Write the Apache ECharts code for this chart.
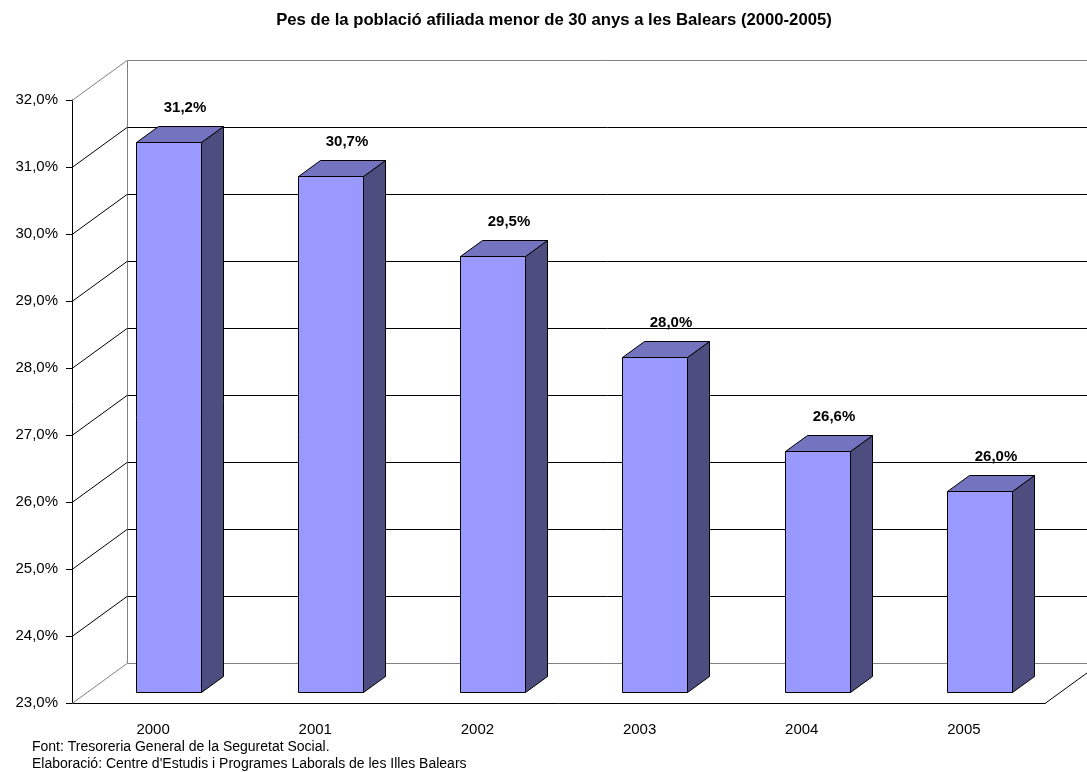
<!DOCTYPE html>
<html>
<head>
<meta charset="utf-8">
<script src="https://cdn.jsdelivr.net/npm/echarts@6/dist/echarts.min.js"></script>
<style>
  html, body { margin: 0; padding: 0; background: #fff; }
  #chart { width: 1087px; height: 772px; }
</style>
</head>
<body>
<div id="chart"></div>
<script>
// dades
const years = ['2000', '2001', '2002', '2003', '2004', '2005'];
const shares = [31.2, 30.7, 29.5, 28.0, 26.6, 26.0];
const yTicks = [23, 24, 25, 26, 27, 28, 29, 30, 31, 32];

const FONT = 'Liberation Sans, Arial, sans-serif';
// profunditat de la perspectiva 3D (px)
const DX = 55, DY = -40;
const F1 = 0.28, F2 = 0.68;   // cara frontal / posterior de les barres

function fmt(v) {
  return v.toFixed(1).replace('.', ',') + '%';
}

function line(x1, y1, x2, y2, color) {
  return {
    type: 'line',
    shape: { x1: x1, y1: y1, x2: x2, y2: y2 },
    style: { stroke: color, lineWidth: 1 }
  };
}

function crisp(v) {
  return Math.round(v) + 0.5;
}

let chart = echarts.init(document.getElementById('chart'));

let option = {
  backgroundColor: '#fff',
  animation: false,
  title: [
    {
      text: 'Pes de la població afiliada menor de 30 anys a les Balears (2000-2005)',
      left: 549,
      top: 7,
      textAlign: 'center',
      textStyle: { fontFamily: FONT, fontSize: 16.7, fontWeight: 'bold', color: '#000' }
    },
    {
      text: 'Font: Tresoreria General de la Seguretat Social.\nElaboració: Centre d\'Estudis i Programes Laborals de les Illes Balears',
      left: 27,
      top: 734,
      textStyle: { fontFamily: FONT, fontSize: 14, fontWeight: 'normal', color: '#000', lineHeight: 17 }
    }
  ],
  grid: { left: 72, right: 42, top: 100, bottom: 69 },
  xAxis: {
    type: 'category',
    data: years,
    axisLine: { lineStyle: { color: '#000' } },
    axisTick: { length: 11, lineStyle: { color: '#000' } },
    axisLabel: { margin: 19, color: '#000', fontFamily: FONT, fontSize: 15 }
  },
  yAxis: {
    type: 'value',
    min: 23,
    max: 32,
    interval: 1,
    axisLine: { show: true, lineStyle: { color: '#000' } },
    axisTick: { show: true, length: 6, lineStyle: { color: '#000' } },
    splitLine: { show: false },
    axisLabel: { margin: 14, color: '#000', fontFamily: FONT, fontSize: 15, formatter: fmt }
  },
  series: [
    {
      // parets del fons i de l'esquerra
      type: 'custom',
      data: yTicks.map(v => [0, v]),
      encode: { x: 0, y: 1 },
      silent: true,
      renderItem: function (params, api) {
        let v = api.value(1);
        let cs = params.coordSys;
        let x0 = cs.x, x1 = cs.x + cs.width;
        let y = api.coord([0, v])[1];
        let edge = (v === yTicks[0] || v === yTicks[yTicks.length - 1]);
        let col = edge ? '#808080' : '#000';
        let children = [
          line(x0, crisp(y), x0 + DX, crisp(y + DY), col),
          line(crisp(x0 + DX), crisp(y + DY), x1 + DX, crisp(y + DY), col)
        ];
        if (v === yTicks[0]) {
          let yTop = api.coord([0, yTicks[yTicks.length - 1]])[1];
          children.push(line(crisp(x0 + DX), crisp(y + DY), crisp(x0 + DX), crisp(yTop + DY), '#808080'));
          children.push(line(x1, crisp(y), x1 + DX, crisp(y + DY), '#000'));
        }
        return { type: 'group', children: children };
      }
    },
    {
      type: 'custom',
      data: shares.map((v, i) => [i, v]),
      encode: { x: 0, y: 1 },
      renderItem: function (params, api) {
        let i = api.value(0), v = api.value(1);
        let c = api.coord([i, v]);
        let b = api.coord([i, yTicks[0]]);
        let bw = api.size([1, 0])[0];
        let w = Math.round(bw * 0.4);
        let fx = Math.round(c[0] - w / 2 + F1 * DX) + 0.5;
        let top = Math.round(c[1] + F1 * DY) + 0.5;
        let bottom = Math.round(b[1] + F1 * DY) + 0.5;
        let sdx = (F2 - F1) * DX, sdy = (F2 - F1) * DY;
        let stroke = { stroke: '#000', lineWidth: 1 };
        return {
          type: 'group',
          children: [
            {
              type: 'polygon',
              shape: { points: [[fx + w, top], [fx + w + sdx, top + sdy], [fx + w + sdx, bottom + sdy], [fx + w, bottom]] },
              style: Object.assign({ fill: '#4D4D80' }, stroke)
            },
            {
              type: 'polygon',
              shape: { points: [[fx, top], [fx + sdx, top + sdy], [fx + w + sdx, top + sdy], [fx + w, top]] },
              style: Object.assign({ fill: '#7373BF' }, stroke)
            },
            {
              type: 'rect',
              shape: { x: fx, y: top, width: w, height: bottom - top },
              style: Object.assign({ fill: '#9999FF' }, stroke)
            },
            {
              type: 'text',
              x: fx + w / 2 + 16,
              y: top + sdy - 19,
              style: {
                text: fmt(v),
                fill: '#000',
                font: 'bold 15px ' + FONT,
                align: 'center',
                verticalAlign: 'middle'
              }
            }
          ]
        };
      }
    }
  ]
};

chart.setOption(option);
</script>
</body>
</html>
